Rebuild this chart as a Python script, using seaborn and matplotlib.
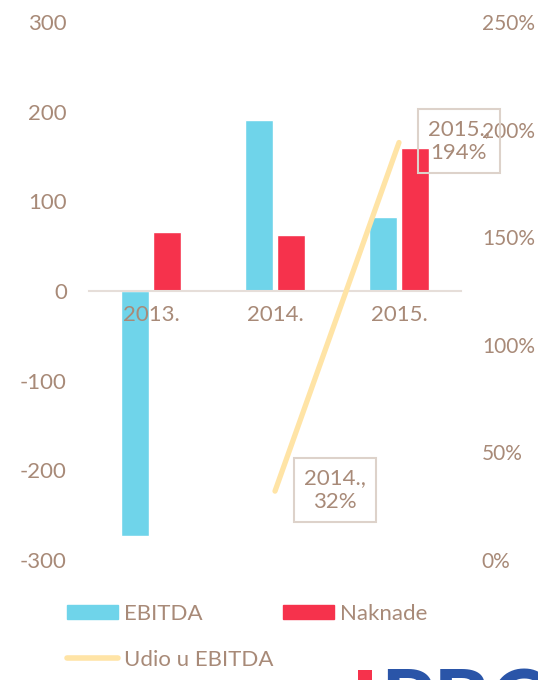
import matplotlib
matplotlib.use("Agg")
import matplotlib.pyplot as plt
import matplotlib.ticker as mticker
from matplotlib.patches import Patch, Rectangle
from matplotlib.lines import Line2D
import pandas as pd
import seaborn as sns

# data
years = ["2013.", "2014.", "2015."]
ebitda = [-273, 191, 82]
naknade = [66, 62, 160]
udio_years = ["2014.", "2015."]
udio = [0.32, 1.94]
udio_labels = ["2014.,\n32%", "2015.,\n194%"]

c_ebitda = "#6FD4EA"
c_nak = "#F6324C"
c_line = "#FFE4A6"
c_text = "#A88A78"
c_grid = "#E6DED9"

sns.set_theme(style="white")
plt.rcParams["font.family"] = ["Lato", "DejaVu Sans"]
plt.rcParams["axes.unicode_minus"] = False
fs = 16

df = pd.DataFrame({
    "year": years * 2,
    "value": ebitda + naknade,
    "series": ["EBITDA"] * 3 + ["Naknade"] * 3,
})

fig = plt.figure(figsize=(5.38, 6.8), dpi=100)
ax = fig.add_axes([89 / 538, 1 - 560 / 680, 372 / 538, 538 / 680])

sns.barplot(data=df, x="year", y="value", hue="series", order=years,
            palette={"EBITDA": c_ebitda, "Naknade": c_nak},
            width=0.51, gap=0.11, ax=ax, legend=False, saturation=1)

ax.set_axisbelow(False)
ax.set_ylim(-300, 300)
ax.set_yticks(range(-300, 301, 100))
ax.set_xlim(-0.5, 2.5)
ax.set_xlabel("")
ax.set_ylabel("")
for s in ["top", "left", "right"]:
    ax.spines[s].set_visible(False)
ax.spines["bottom"].set_position(("data", 0))
ax.spines["bottom"].set_color(c_grid)
ax.spines["bottom"].set_linewidth(1.5)
ax.tick_params(axis="both", length=0, labelsize=fs, labelcolor=c_text)
ax.tick_params(axis="y", pad=16)
ax.tick_params(axis="x", pad=10)

ax2 = ax.twinx()
xpos = [years.index(y) for y in udio_years]
sns.lineplot(x=xpos, y=udio, ax=ax2, color=c_line, linewidth=3.8,
             solid_capstyle="round", legend=False)
ax2.set_ylim(0, 2.5)
ax2.set_yticks([0, 0.5, 1, 1.5, 2, 2.5])
ax2.yaxis.set_major_formatter(mticker.PercentFormatter(1.0, decimals=0))
ax2.set_xlim(-0.5, 2.5)
for s in ax2.spines.values():
    s.set_visible(False)
ax2.tick_params(axis="y", length=0, labelsize=15, labelcolor=c_text, pad=15)

for xp, v, lab in zip(xpos, udio, udio_labels):
    ax2.annotate(lab, xy=(xp, v), xytext=(43, 1), textcoords="offset points",
                 ha="center", va="center", multialignment="center",
                 fontsize=fs, color=c_text, linespacing=1.25,
                 bbox=dict(boxstyle="square,pad=0.45", fc="none",
                           ec="#DDD2CA", lw=1.5))

handles = [
    Patch(color=c_ebitda, label="EBITDA"),
    Line2D([], [], color=c_line, lw=4, solid_capstyle="round", label="Udio u EBITDA"),
    Patch(color=c_nak, label="Naknade"),
]
leg = fig.legend(handles=handles, ncol=2, loc="upper left",
                 bbox_to_anchor=(67 / 538, 1 - 604 / 680), frameon=False,
                 fontsize=fs, handlelength=2.3, handleheight=0.6,
                 handletextpad=0.25, columnspacing=0.45, labelspacing=1.15,
                 borderpad=0, borderaxespad=0)
for t in leg.get_texts():
    t.set_color(c_text)

# partially visible logo at the bottom edge
fig.add_artist(Rectangle((358 / 538, 0), 14 / 538, 10 / 680,
                         transform=fig.transFigure, color=c_nak, lw=0))
fig.text(380 / 538, 1 - 668 / 680, "PBC", color="#2A55A8", fontsize=62,
         fontweight="bold", va="top", ha="left")

fig.savefig("out.png", dpi=100)
